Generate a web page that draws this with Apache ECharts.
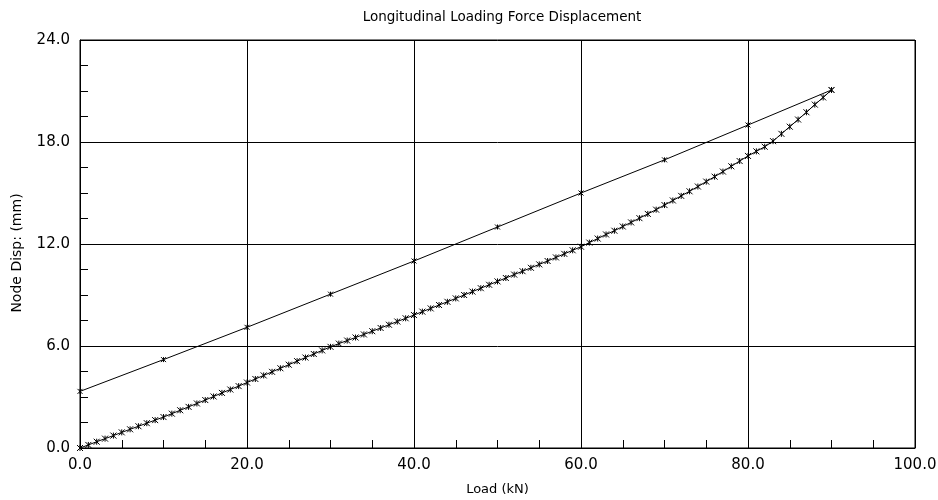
<!DOCTYPE html>
<html>
<head>
    <meta charset="UTF-8">
    <title>Longitudinal Loading Force Displacement</title>
</head>
<style>
    body{margin:0;background:#fff;}
    #chart{width:938px;height:500px;}
</style>
<body>
<div id="chart"></div>
<script type="text/javascript" src="https://cdn.jsdelivr.net/npm/echarts@6/dist/echarts.min.js"></script>
<script>
    // loading branch, one reading per kN
    var loadUp = [0,1,2,3,4,5,6,7,8,9,10,11,12,13,14,15,16,17,18,19,20,21,22,23,24,25,26,27,28,29,30,
        31,32,33,34,35,36,37,38,39,40,41,42,43,44,45,46,47,48,49,50,51,52,53,54,55,56,57,58,59,60,
        61,62,63,64,65,66,67,68,69,70,71,72,73,74,75,76,77,78,79,80,81,82,83,84,85,86,87,88,89,90];
    var dispUp = [0.00,0.18,0.37,0.55,0.73,0.92,1.10,1.28,1.46,1.64,1.82,2.02,2.22,2.42,2.62,2.82,
        3.03,3.24,3.44,3.64,3.85,4.06,4.27,4.48,4.69,4.90,5.11,5.32,5.53,5.74,5.95,6.14,6.32,6.50,
        6.68,6.87,7.06,7.25,7.44,7.63,7.82,8.02,8.21,8.41,8.60,8.80,9.00,9.20,9.40,9.60,9.80,10.00,
        10.20,10.40,10.60,10.80,11.00,11.21,11.42,11.63,11.84,12.08,12.32,12.56,12.78,13.03,13.27,
        13.52,13.77,14.02,14.29,14.56,14.83,15.10,15.38,15.67,15.96,16.26,16.57,16.88,17.18,17.45,
        17.72,18.05,18.48,18.90,19.32,19.75,20.20,20.62,21.06];
    // unloading branch
    var loadDown = [90,80,70,60,50,40,30,20,10,0];
    var dispDown = [21.06,19.0,16.95,15.0,13.0,11.0,9.05,7.1,5.2,3.33];

    var xTicks = [0,20,40,60,80,100];
    var yTicks = [0,6,12,18,24];

    function pairs(xs, ys){
        var out = [];
        for(var i=0;i<xs.length;i++) out.push([xs[i], ys[i]]);
        return out;
    }

    var cross = 'path://M0 0L10 10M10 0L0 10M5 0L5 10';
    var font = 'DejaVu Sans';

    var chart = echarts.init(document.getElementById('chart'));
    var option = {
        animation:false,
        backgroundColor:'#fff',
        title:{
            text:'Longitudinal Loading Force Displacement',
            left:497, top:5, textAlign:'center',
            textStyle:{fontFamily:font,fontSize:13.5,fontWeight:'normal',color:'#000'}
        },
        grid:{left:80,right:23,top:40,bottom:52,show:true,borderColor:'#000',borderWidth:1,
            outerBoundsMode:'none',containLabel:false},
        xAxis:{
            type:'value', min:xTicks[0], max:xTicks[xTicks.length-1], interval:20,
            name:'Load (kN)', nameLocation:'middle', nameGap:35,
            nameTextStyle:{fontFamily:font,fontSize:13,color:'#000'},
            axisLine:{lineStyle:{color:'#000',width:1}},
            axisTick:{show:true,inside:true,length:8,lineStyle:{color:'#000'}},
            minorTick:{show:true,splitNumber:4,length:8,lineStyle:{color:'#000',width:1}},
            splitLine:{show:true,lineStyle:{color:'#000',width:1}},
            axisLabel:{fontFamily:font,fontSize:15,color:'#000',margin:10,
                formatter:function(v){return v.toFixed(1);}}
        },
        yAxis:{
            type:'value', min:yTicks[0], max:yTicks[yTicks.length-1], interval:6,
            name:'Node Disp: (mm)', nameLocation:'middle', nameGap:56,
            nameTextStyle:{fontFamily:font,fontSize:14,color:'#000',padding:[0,18,0,0]},
            axisLine:{show:true,lineStyle:{color:'#000',width:1}},
            axisTick:{show:true,inside:true,length:8,lineStyle:{color:'#000'}},
            minorTick:{show:true,splitNumber:4,length:8,lineStyle:{color:'#000',width:1}},
            splitLine:{show:true,lineStyle:{color:'#000',width:1}},
            axisLabel:{fontFamily:font,fontSize:15,color:'#000',margin:10,
                formatter:function(v){return v.toFixed(1);}}
        },
        series:[
            {
                type:'line', data:pairs(loadUp, dispUp),
                symbol:cross, symbolSize:6, showAllSymbol:true,
                lineStyle:{color:'#000',width:1},
                itemStyle:{color:'#000',borderColor:'#000',borderWidth:1}
            },
            {
                type:'line', data:pairs(loadDown, dispDown),
                symbol:cross, symbolSize:5, showAllSymbol:true,
                lineStyle:{color:'#000',width:1},
                itemStyle:{color:'#000',borderColor:'#000',borderWidth:1}
            }
        ]
    };
    chart.setOption(option);
</script>
</body>
</html>
